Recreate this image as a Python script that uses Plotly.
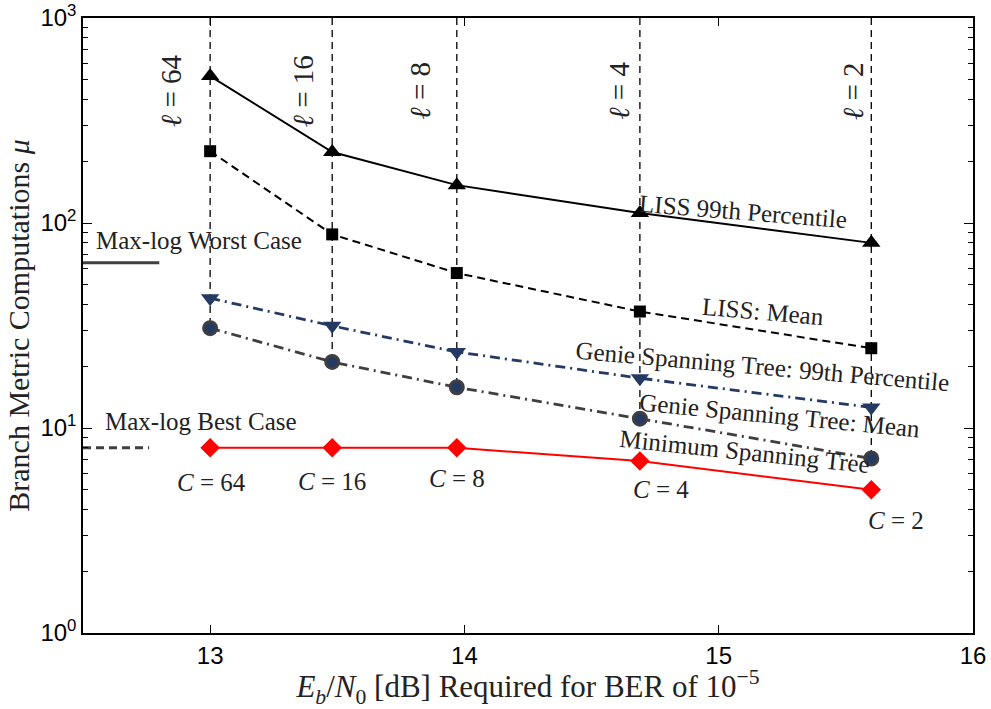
import math
import plotly.graph_objects as go

# ---- data ----
ebn0 = [13.0, 13.48, 13.97, 14.69, 15.60]
ell_labels = ["64", "16", "8", "4", "2"]
c_labels = ["64", "16", "8", "4", "2"]
liss_99 = [521, 222, 153, 112, 80]
liss_mean = [224, 88, 57, 37, 24.5]
genie_99 = [43, 31.5, 23.5, 17.5, 12.6]
genie_mean = [30.7, 21, 15.8, 11.1, 7.1]
mst = [8.0, 8.0, 8.0, 6.9, 5.0]
maxlog_x = [12.5, 12.8]
maxlog_worst = 64
maxlog_best_x = [12.5, 12.76]
maxlog_best = 8

SERIF = "Liberation Serif"
SANS = "Liberation Sans"
NAVY = "#243a63"
DGRAY = "#3f3f3f"

fig = go.Figure()

# vertical dashed lines from top down to genie mean
for x, gm in zip(ebn0, genie_mean):
    fig.add_trace(go.Scatter(x=[x, x], y=[1000, gm], mode="lines",
                             line=dict(color="black", width=1.3, dash="7px,5px"),
                             showlegend=False, hoverinfo="skip"))

# max-log lines
fig.add_trace(go.Scatter(x=maxlog_x, y=[maxlog_worst] * 2, mode="lines",
                         line=dict(color=DGRAY, width=3), showlegend=False))
fig.add_trace(go.Scatter(x=maxlog_best_x, y=[maxlog_best] * 2, mode="lines",
                         line=dict(color=DGRAY, width=3, dash="8px,5px"), showlegend=False))

fig.add_trace(go.Scatter(x=ebn0, y=liss_99, mode="lines+markers",
                         line=dict(color="black", width=2),
                         marker=dict(symbol="triangle-up", size=16, color="black"),
                         showlegend=False))
fig.add_trace(go.Scatter(x=ebn0, y=liss_mean, mode="lines+markers",
                         line=dict(color="black", width=2, dash="8px,5px"),
                         marker=dict(symbol="square", size=12, color="black"),
                         showlegend=False))
fig.add_trace(go.Scatter(x=ebn0, y=genie_99, mode="lines+markers",
                         line=dict(color=NAVY, width=2.8, dash="10px,5px,2px,5px"),
                         marker=dict(symbol="triangle-down", size=16, color=NAVY),
                         showlegend=False))
fig.add_trace(go.Scatter(x=ebn0, y=genie_mean, mode="lines+markers",
                         line=dict(color=DGRAY, width=2.8, dash="10px,5px,2px,5px"),
                         marker=dict(symbol="circle", size=13, color=NAVY,
                                     line=dict(color=DGRAY, width=3)),
                         showlegend=False))
fig.add_trace(go.Scatter(x=ebn0, y=mst, mode="lines+markers",
                         line=dict(color="red", width=2),
                         marker=dict(symbol="diamond", size=15, color="red"),
                         showlegend=False))

TXT = "#222222"
ann = []
def add(text, x, ylog, angle=0, size=25):
    ann.append(dict(text=text, x=x, y=ylog, xref="x", yref="y", showarrow=False,
                    textangle=angle, font=dict(family=SERIF, size=size, color=TXT),
                    xanchor="center", yanchor="middle"))

add("LISS 99th Percentile", 15.094, 2.058, 4.5)
add("LISS: Mean", 15.173, 1.566, 5)
add("Genie Spanning Tree: 99th Percentile", 15.173, 1.302, 5)
add("Genie Spanning Tree: Mean", 15.240, 1.063, 5.5)
add("Minimum Spanning Tree", 15.102, 0.883, 6)
add("Max-log Worst Case", 12.955, 1.917)
add("Max-log Best Case", 12.965, 1.034)

c_pos = [(13.004, 0.732), (13.480, 0.737), (13.972, 0.756), (14.772, 0.698), (15.697, 0.551)]
for lab, (cx, cy) in zip(c_labels, c_pos):
    add("<i>C</i> = " + lab, cx, cy)

ell_x = [12.846, 13.366, 13.827, 14.606, 15.528]
for lab, lx in zip(ell_labels, ell_x):
    add("<i>ℓ</i> = " + lab, lx, 2.644, -90, 29)

fig.update_layout(annotations=ann)

minor_vals = [m * 10 ** d for d in range(0, 3) for m in range(2, 10)]
fig.update_xaxes(range=[12.5, 16], tickvals=[13, 14, 15, 16], ticks="inside", ticklen=8,
                 tickcolor="black", linecolor="black", linewidth=1.5, mirror="allticks",
                 showgrid=False, zeroline=False, automargin=False,
                 tickfont=dict(family=SANS, size=24, color="black"),
                 title=dict(text="<i>E<sub>b</sub></i>/<i>N</i><sub>0</sub> [dB] Required for BER of 10<sup>−5</sup>",
                            font=dict(family=SERIF, size=31, color=TXT), standoff=6))
fig.update_yaxes(type="log", range=[0, 3], tickvals=[1, 10, 100, 1000],
                 ticktext=["10<sup>0</sup>", "10<sup>1</sup>", "10<sup>2</sup>", "10<sup>3</sup>"],
                 ticks="inside", ticklen=9, tickcolor="black", linecolor="black", linewidth=1.5,
                 mirror="allticks", showgrid=False, zeroline=False, automargin=False,
                 minor=dict(tickvals=minor_vals, ticks="inside", ticklen=5, tickcolor="black", showgrid=False),
                 tickfont=dict(family=SANS, size=24, color="black"),
                 title=dict(text="Branch Metric Computations <i>μ</i>",
                            font=dict(family=SERIF, size=30, color=TXT), standoff=2))

fig.update_layout(width=991, height=709, margin=dict(l=83, r=18, t=18, b=76),
                  plot_bgcolor="white", paper_bgcolor="white")

fig.write_html("out.html")
